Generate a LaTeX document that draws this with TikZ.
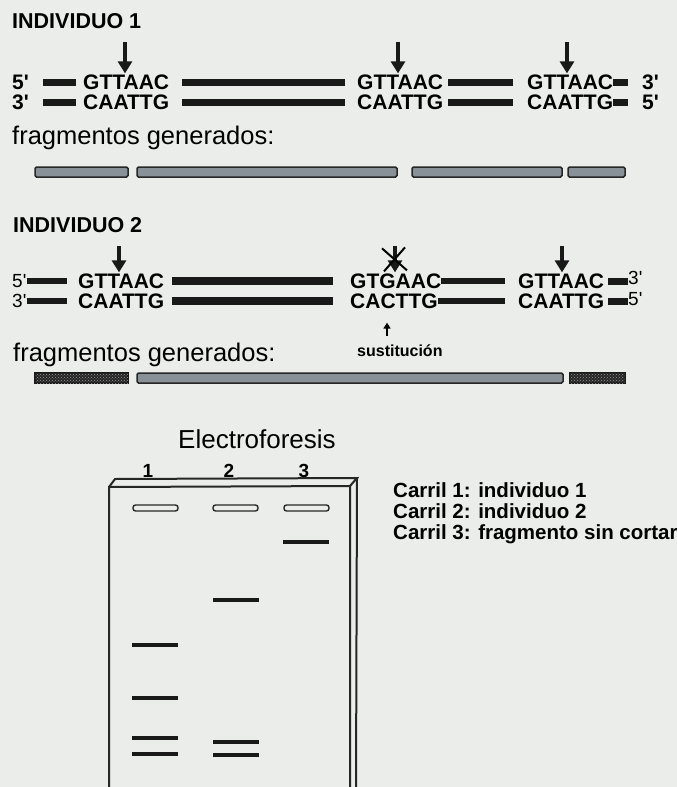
\documentclass[tikz,border=0pt]{standalone}
\usepackage{fontspec}
\setmainfont{Liberation Sans}
\usetikzlibrary{arrows.meta,patterns}
\definecolor{paper}{RGB}{234,237,233}
\definecolor{fraggrey}{RGB}{136,144,152}
\newcommand{\prm}{\textquotesingle}
\tikzset{
  title/.style={font=\bfseries\fontsize{21.5}{22}\selectfont,inner sep=0pt,anchor=base west},
  seq/.style={font=\bfseries\fontsize{21}{21}\selectfont,inner sep=0pt,anchor=west},
  tag/.style={font=\fontsize{19}{19}\selectfont,inner sep=0pt,anchor=west},
  plain/.style={font=\fontsize{25.5}{26}\selectfont,inner sep=0pt,anchor=base west},
  dna/.style={line width=7pt,black!90},
  cut/.style={-{Triangle[width=14pt,length=12pt]},line width=3.5pt,black!90},
  frag/.style={draw=black!85,fill=fraggrey,line width=1.5pt,rounded corners=1.5pt},
  darkfrag/.style={draw=black!90,fill=black!85,line width=1.2pt,
    postaction={pattern=crosshatch dots,pattern color=black!40}},
  gel/.style={line width=2pt,black!85},
  well/.style={draw=black!85,fill=paper,line width=1.4pt,rounded corners=2.5pt},
  band/.style={line width=3.5pt,black!90},
  legend/.style={font=\bfseries\fontsize{20.5}{20}\selectfont,inner sep=0pt,anchor=base west}
}

\begin{document}
\begin{tikzpicture}[x=1pt,y=-1pt]
\useasboundingbox (0,0) rectangle (677,787);
\fill[paper] (0,0) rectangle (677,787);

% individuo 1
\node[title] (t1) at (12,28) {INDIVIDUO 1};
\node[seq] (a0) at (12,82) {5\prm};
\node[seq] (a1) at (83,82) {GTTAAC};
\node[seq] (a2) at (357,82) {GTTAAC};
\node[seq] (a3) at (527,82) {GTTAAC};
\node[seq] (a4) at (642,82) {3\prm};
\node[seq] (d0) at (12,102) {3\prm};
\node[seq] (d1) at (83,102) {CAATTG};
\node[seq] (d2) at (357,102) {CAATTG};
\node[seq] (d3) at (527,102) {CAATTG};
\node[seq] (d4) at (642,102) {5\prm};
\foreach \r in {a,d}{
  \draw[dna,shorten <=14pt,shorten >=7pt] (\r0) -- (\r1);
  \draw[dna,shorten <=12.5pt,shorten >=12pt] (\r1) -- (\r2);
  \draw[dna,shorten <=5pt,shorten >=14pt] (\r2) -- (\r3);
  \draw[dna,shorten >=14pt] (\r3) -- (\r4);
}
\coordinate (k1) at ([xshift=42pt,yshift=1pt]a1.north west);
\coordinate (k2) at ([xshift=41pt,yshift=1pt]a2.north west);
\coordinate (k3) at ([xshift=40pt,yshift=1pt]a3.north west);
\foreach \k in {k1,k2,k3}
  \draw[cut] ([yshift=31pt]\k) -- (\k);

\node[plain] (f1) at (12,144) {fragmentos generados:};
\foreach \a/\b in {35/128,137/397,412/562,568/625}
  \draw[frag] (\a,167) rectangle (\b,177);

% individuo 2
\node[title] (t2) at (13,232) {INDIVIDUO 2};
\node[tag] (b0) at (12,281) {5\prm};
\node[seq] (b1) at (78,281) {GTTAAC};
\node[seq] (b2) at (350,281) {GTGAAC};
\node[seq] (b3) at (518,281) {GTTAAC};
\node[tag] (b4) at (628,278) {3\prm};
\node[tag] (e0) at (12,301) {3\prm};
\node[seq] (e1) at (78,301) {CAATTG};
\node[seq] (e2) at (350,301) {CACTTG};
\node[seq] (e3) at (518,301) {CAATTG};
\node[tag] (e4) at (628,299) {5\prm};
\foreach \r in {b,e}{
  \draw[dna,line width=6pt,shorten >=11pt] (\r0) -- (\r1);
  \draw[dna,line width=8pt,shorten <=7.5pt,shorten >=17pt] (\r1) -- (\r2);
  \draw[dna,line width=6pt,shorten >=13pt] (\r2) -- (\r3);
  \draw[dna,shorten <=4pt] (\r3) -- (\r3 -| \r4.west);
}
\coordinate (m1) at ([xshift=41pt,yshift=1pt]b1.north west);
\coordinate (m2) at ([xshift=45pt,yshift=1pt]b2.north west);
\coordinate (m3) at ([xshift=44pt,yshift=1pt]b3.north west);
\foreach \k in {m1,m2,m3}
  \draw[cut] ([yshift=26pt]\k) -- (\k);
\draw[line width=2pt] ([xshift=-13pt,yshift=24pt]m2) -- ([xshift=12pt,yshift=2pt]m2);
\draw[line width=2pt] ([xshift=10pt,yshift=25pt]m2) -- ([xshift=-11pt,yshift=1pt]m2);

\coordinate (sub) at ([xshift=37pt]e2.south west);
\node[font=\bfseries\fontsize{16}{16}\selectfont,inner sep=0pt,anchor=base west] (sust) at (357,356) {sustitución};
\draw[-{Triangle[width=7pt,length=6pt]},line width=2pt] ([yshift=-27pt]sub) -- ([yshift=-14pt]sub);

\node[plain] (f2) at (13,361) {fragmentos generados:};
\draw[frag] (137,373) rectangle (563,383);
\foreach \a/\b in {35/128,570/625}
  \draw[darkfrag] (\a,373) rectangle (\b,383);

% electroforesis
\node[plain,font=\fontsize{26}{26}\selectfont] (el) at (178,448) {Electroforesis};
\node[font=\bfseries\fontsize{19}{19}\selectfont] (n1) at (148,471) {1};
\node[font=\bfseries\fontsize{19}{19}\selectfont] (n2) at (229,471) {2};
\node[font=\bfseries\fontsize{19}{19}\selectfont] (n3) at (304,471) {3};
\draw[gel] (109,790) -- (109,487) -- (350,486) -- (350,790);
\draw[gel] (109,487) -- (115,479) -- (357,478) -- (350,486);
\draw[gel] (357,478) -- (356,790);
\foreach \x in {133,213,284}
  \draw[well] (\x,505) rectangle ++(45,6);
\foreach \x/\y in {132/645,132/698,132/738,132/754,213/600,213/742,213/755,283/542}
  \draw[band] (\x,\y) -- ++(46,0);

\node[legend] (c1) at (393,497) {Carril 1: individuo 1};
\node[legend] (c2) at (393,518) {Carril 2: individuo 2};
\node[legend] (c3) at (393,539) {Carril 3: fragmento sin cortar};
\end{tikzpicture}
\end{document}
